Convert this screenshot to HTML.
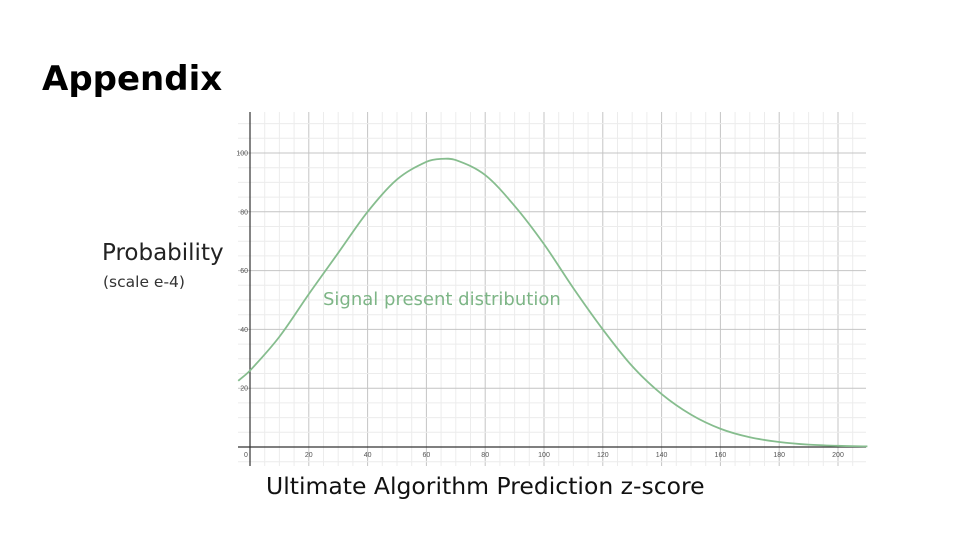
<!DOCTYPE html>
<html><head><meta charset="utf-8"><style>
body{margin:0;background:#fff;width:960px;height:540px;overflow:hidden;font-family:"DejaVu Sans",sans-serif;position:relative}
.t{position:absolute;margin:0;white-space:nowrap}
</style></head><body>
<div class="t" style="left:42px;top:59px;font-size:34px;font-weight:bold;color:#000">Appendix</div>
<div class="t" style="left:102px;top:240px;font-size:23px;color:#222">Probability</div>
<div class="t" style="left:103px;top:273px;font-size:15.5px;color:#333">(scale e-4)</div>
<div class="t" style="left:266px;top:472px;font-size:23.5px;color:#111">Ultimate Algorithm Prediction z-score</div>
<svg id="c" width="960" height="540" style="position:absolute;left:0;top:0"></svg>
<script>
const xs=[-4,0,10,20,30,40,50,60,65,70,80,90,100,110,120,130,140,150,160,170,180,190,200,210];
const ys=[22.5,26,37.5,52,66,80,91,97,98,97.6,92.5,82,69,54,40,27.5,18,11,6.2,3.3,1.7,0.8,0.4,0.2];
const xTicks=[0,20,40,60,80,100,120,140,160,180,200];
const yTicks=[20,40,60,80,100];
const seriesLabel="Signal present distribution";
const X=v=>250+v*2.94, Y=v=>447-v*2.94;
const L=238,R=866,T=112,B=466;
const s=document.getElementById('c');const NS='http://www.w3.org/2000/svg';
function mk(t,a,p){const e=document.createElementNS(NS,t);for(const k in a)e.setAttribute(k,a[k]);(p||s).appendChild(e);return e;}
const g=mk('g',{});


for(let v=-5;X(v)<=R;v+=5){if(X(v)<L)continue;const maj=v%20===0;mk('line',{x1:X(v),x2:X(v),y1:T,y2:B,stroke:maj?'#c4c4c4':'#ececec','stroke-width':1},g);}
for(let v=-5;Y(v)>=T;v+=5){if(Y(v)>B)continue;const maj=v%20===0;mk('line',{x1:L,x2:R,y1:Y(v),y2:Y(v),stroke:maj?'#c4c4c4':'#ececec','stroke-width':1},g);}
const xa=mk('line',{x1:L,x2:R,y1:Y(0),y2:Y(0),stroke:'#333','stroke-width':1.2});


const ya=mk('line',{x1:X(0),x2:X(0),y1:T,y2:B,stroke:'#333','stroke-width':1.2});


xTicks.forEach(v=>{const t=mk('text',{x:v===0?X(v)-4:X(v),y:Y(0)+10,'font-size':7,fill:'#555','text-anchor':'middle','font-family':'Liberation Sans'});t.textContent=v;

});
yTicks.forEach(v=>{const t=mk('text',{x:X(0)-2,y:Y(v)+2.5,'font-size':7,fill:'#555','text-anchor':'end','font-family':'Liberation Sans'});t.textContent=v;

});
const pts=xs.map((v,i)=>[X(v),Y(ys[i])]);
let d='M'+pts[0][0]+','+pts[0][1];
for(let i=0;i<pts.length-1;i++){const p0=pts[i-1]||pts[i],p1=pts[i],p2=pts[i+1],p3=pts[i+2]||p2;
const h=(p2[0]-p1[0]);
const m1=(p2[1]-p0[1])/(p2[0]-p0[0]||1), m2=(p3[1]-p1[1])/(p3[0]-p1[0]||1);
d+=` C${p1[0]+h/3},${p1[1]+m1*h/3} ${p2[0]-h/3},${p2[1]-m2*h/3} ${p2[0]},${p2[1]}`;}
const c=mk('path',{d:d,fill:'none',stroke:'#86bd8e','stroke-width':1.8});


const lb=mk('text',{x:323,y:305,'font-size':18,fill:'#7db586','font-family':'DejaVu Sans'});lb.textContent=seriesLabel;


</script>
</body></html>
